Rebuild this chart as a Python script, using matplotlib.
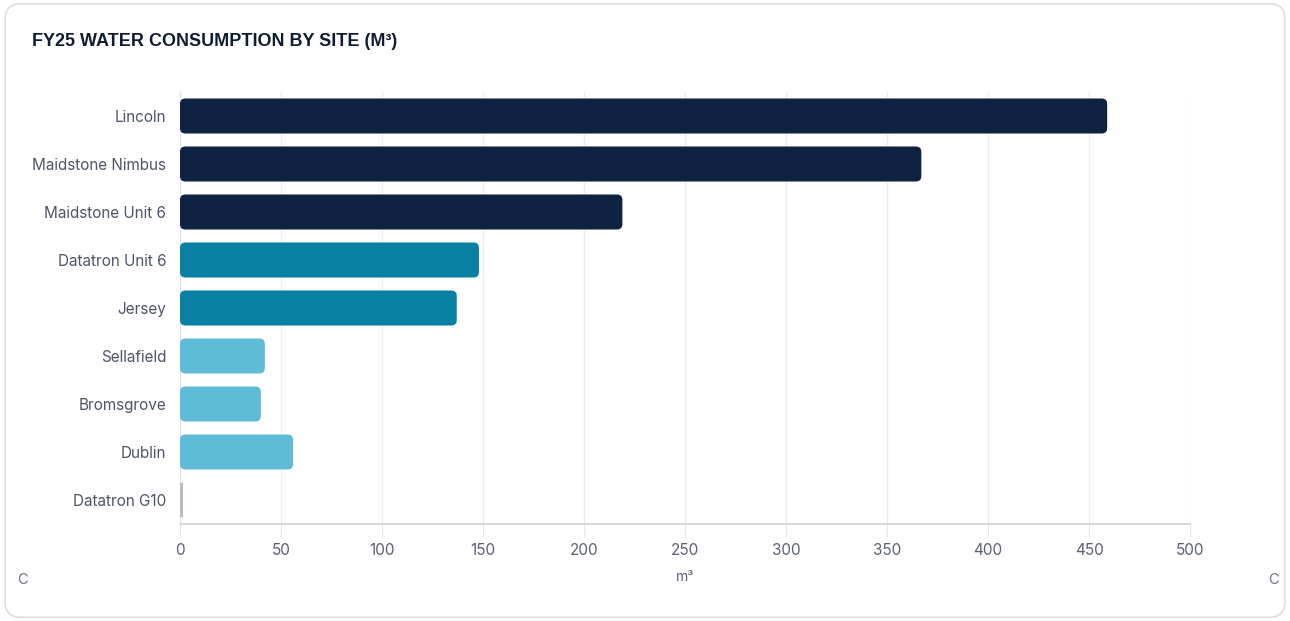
import matplotlib
matplotlib.use("Agg")
import matplotlib.pyplot as plt
from matplotlib.patches import FancyBboxPatch

sites = ["Lincoln", "Maidstone Nimbus", "Maidstone Unit 6", "Datatron Unit 6", "Jersey",
         "Sellafield", "Bromsgrove", "Dublin", "Datatron G10"]
values = [459, 367, 219, 148, 137, 42, 40, 56, 1.5]
colors = ["#0f2340", "#0f2340", "#0f2340", "#0880a3", "#0880a3",
          "#5ebcd6", "#5ebcd6", "#5ebcd6", "#b9bac6"]
xticks = [0, 50, 100, 150, 200, 250, 300, 350, 400, 450, 500]

plt.rcParams['font.family'] = ['Inter', 'DejaVu Sans']

fig = plt.figure(figsize=(12.9, 6.21), dpi=100)
card = FancyBboxPatch((0.004, 0.006), 0.992, 0.988, boxstyle="round,pad=0,rounding_size=0.012",
                      transform=fig.transFigure, facecolor="white", edgecolor="#dcdde0",
                      linewidth=1.2, mutation_aspect=1290/621, zorder=-10)
fig.patches.append(card)

ax = fig.add_axes([180/1290, 1-524/621, 1010/1290, 432/621])
ax.set_zorder(5)
ax.set_facecolor("none")
ypos = list(range(len(sites)))
bars = ax.barh(ypos, values, height=0.73, color=colors)
ax.set_xlim(0, 500)
ax.set_ylim(len(sites) - 0.5, -0.5)

# rounded bars
sx = 2.8
aspect = 0.11 / 2.8
for b, c in zip(bars, colors):
    x, y, w, h = b.get_x(), b.get_y(), b.get_width(), b.get_height()
    r = min(sx, w / 2)
    p = FancyBboxPatch((x, y), w, h, boxstyle=f"round,pad=0,rounding_size={r}",
                       mutation_aspect=aspect, facecolor=c, edgecolor="none", zorder=3)
    ax.add_patch(p)
    b.set_visible(False)

ax.set_yticks(ypos)
ax.set_yticklabels(sites, fontsize=11, color="#4f5466")
ax.set_xticks(xticks)
ax.set_xticklabels([str(t) for t in xticks], fontsize=11, color="#5d6170")
ax.tick_params(axis="y", length=0, pad=10)
ax.tick_params(axis="x", length=9, color="#e6e6ea", pad=5)
ax.grid(axis="x", color="#ececef", linewidth=1, zorder=0)
ax.set_axisbelow(True)
for s in ["top", "right"]:
    ax.spines[s].set_visible(False)
ax.spines["left"].set_color("#e2e2e6")
ax.spines["bottom"].set_color("#d6d6da")
ax.spines["bottom"].set_linewidth(1.3)

ax.set_xlabel("m³", fontsize=10, color="#5d6170", labelpad=8)

fig.text(32/1290, 1-42/621, "FY25 WATER CONSUMPTION BY SITE (M³)", fontsize=13,
         fontweight="bold", color="#0f1d33", va="center", ha="left",
         family=["Liberation Sans", "DejaVu Sans"])
fig.text(22/1290, 1-580/621, "C", fontsize=10.5, color="#707480", va="center", ha="center")
fig.text(1273/1290, 1-580/621, "C", fontsize=10.5, color="#707480", va="center", ha="center")

fig.savefig("out.png", dpi=100, facecolor="white")
